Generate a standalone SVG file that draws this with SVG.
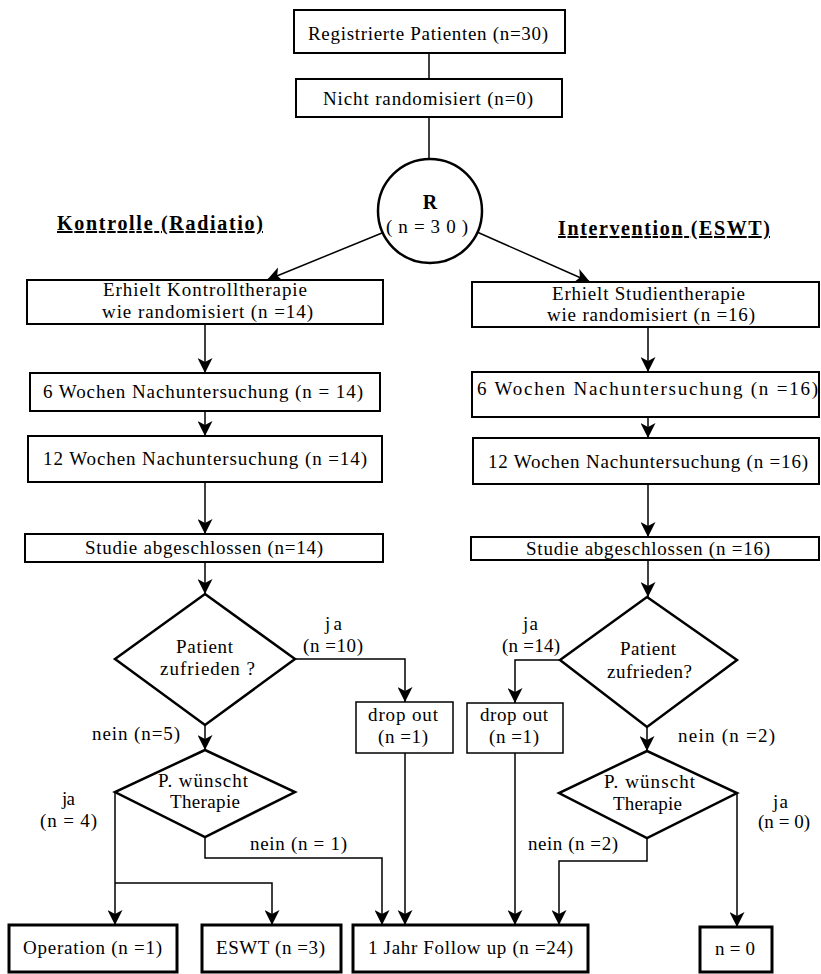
<svg xmlns="http://www.w3.org/2000/svg" width="821" height="974" viewBox="0 0 821 974">
<style>
.box{fill:#fff;stroke:#000;stroke-width:2}
.thin{fill:#fff;stroke:#000;stroke-width:1.5}
.thick{fill:#fff;stroke:#000;stroke-width:3}
.dia{fill:#fff;stroke:#000;stroke-width:2.5}
.conn{fill:none;stroke:#000;stroke-width:1.5}
.arr{marker-end:url(#ah)}
text{font-family:'Liberation Serif','DejaVu Serif','Times New Roman',serif;font-size:19px;fill:#000}
.title{font-weight:bold;font-size:20px;text-decoration:underline}
.mid{text-anchor:middle}
</style>
<defs>
<marker id="ah" markerUnits="userSpaceOnUse" markerWidth="15" markerHeight="15" viewBox="0 0 15 15" refX="15" refY="7.5" orient="auto">
<path d="M0,0 L15,7.5 L0,15 L4,7.5 z" fill="#000"/>
</marker>
</defs>
<rect width="821" height="974" fill="#fff"/>

<g id="connectors">
<path class="conn" d="M429,53 V79"/>
<path class="conn" d="M429,117 V159"/>
<path class="conn arr" d="M382,233 L267,280"/>
<path class="conn arr" d="M477,232 L590,282"/>
<path class="conn arr" d="M205,324 V373"/>
<path class="conn arr" d="M205,411 V436"/>
<path class="conn arr" d="M205,482 V534"/>
<path class="conn arr" d="M205,562 V594"/>
<path class="conn arr" d="M648,327 V372"/>
<path class="conn arr" d="M648,417 V438"/>
<path class="conn arr" d="M648,484 V537"/>
<path class="conn arr" d="M648,560 V597"/>
<path class="conn arr" d="M295,659 H405 V702"/>
<path class="conn arr" d="M405,753 V925"/>
<path class="conn arr" d="M205,725 V750"/>
<path class="conn arr" d="M115,792 V925"/>
<path class="conn arr" d="M115,883 H272 V925"/>
<path class="conn arr" d="M205,837 V858 H382 V925"/>
<path class="conn arr" d="M560,660 H515 V703"/>
<path class="conn arr" d="M515,753 V925"/>
<path class="conn arr" d="M647,727 V751"/>
<path class="conn arr" d="M737,793 V927"/>
<path class="conn arr" d="M647,838 V861 H559 V925"/>
</g>

<g id="registriert">
<rect class="box" x="294" y="10" width="271" height="43"/>
<text x="308" y="40" textLength="240" lengthAdjust="spacing">Registrierte Patienten (n=30)</text>
</g>
<g id="nicht-randomisiert">
<rect class="box" x="296" y="79" width="266" height="38"/>
<text x="323" y="105" textLength="210" lengthAdjust="spacing">Nicht randomisiert (n=0)</text>
</g>
<g id="randomisierung">
<circle class="dia" cx="430" cy="211" r="52"/>
<text class="mid" x="430" y="209" style="font-weight:bold;font-size:20px">R</text>
<text x="386" y="233" textLength="82" lengthAdjust="spacing">(n=30)</text>
</g>

<g id="titel-kontrolle">
<text class="title" x="57" y="230" textLength="206" lengthAdjust="spacing">Kontrolle (Radiatio)</text>
</g>
<g id="titel-intervention">
<text class="title" x="558" y="235" textLength="212" lengthAdjust="spacing">Intervention (ESWT)</text>
</g>

<g id="k-erhielt">
<rect class="box" x="27" y="280" width="356" height="44"/>
<text x="103" y="296" textLength="204" lengthAdjust="spacing">Erhielt Kontrolltherapie</text>
<text x="102" y="318" textLength="211" lengthAdjust="spacing">wie randomisiert (n =14)</text>
</g>
<g id="k-6wochen">
<rect class="box" x="30" y="373" width="350" height="38"/>
<text x="43" y="398" textLength="320" lengthAdjust="spacing">6 Wochen Nachuntersuchung (n = 14)</text>
</g>
<g id="k-12wochen">
<rect class="box" x="28" y="436" width="354" height="46"/>
<text x="43" y="465" textLength="324" lengthAdjust="spacing">12 Wochen Nachuntersuchung (n =14)</text>
</g>
<g id="k-studie">
<rect class="box" x="25" y="534" width="358" height="28"/>
<text x="85" y="554" textLength="238" lengthAdjust="spacing">Studie abgeschlossen (n=14)</text>
</g>

<g id="i-erhielt">
<rect class="box" x="472" y="282" width="347" height="45"/>
<text x="552" y="300" textLength="193" lengthAdjust="spacing">Erhielt Studientherapie</text>
<text x="547" y="321" textLength="208" lengthAdjust="spacing">wie randomisiert (n =16)</text>
</g>
<g id="i-6wochen">
<rect class="box" x="472" y="372" width="347" height="45"/>
<text x="477" y="395" textLength="341" lengthAdjust="spacing">6 Wochen Nachuntersuchung (n =16)</text>
</g>
<g id="i-12wochen">
<rect class="box" x="473" y="438" width="346" height="46"/>
<text x="488" y="468" textLength="320" lengthAdjust="spacing">12 Wochen Nachuntersuchung (n =16)</text>
</g>
<g id="i-studie">
<rect class="box" x="471" y="537" width="348" height="23"/>
<text x="526" y="555" textLength="244" lengthAdjust="spacing">Studie abgeschlossen (n =16)</text>
</g>

<g id="k-zufrieden">
<polygon class="dia" points="205,594 295,659 205,725 115,659"/>
<text x="176" y="653" textLength="57" lengthAdjust="spacing">Patient</text>
<text x="160" y="675" textLength="95" lengthAdjust="spacing">zufrieden ?</text>
</g>
<g id="k-wunsch">
<polygon class="dia" points="205,750 295,792 205,837 115,792"/>
<text x="158" y="787" textLength="90" lengthAdjust="spacing">P. wünscht</text>
<text x="170" y="808" textLength="70" lengthAdjust="spacing">Therapie</text>
</g>
<g id="k-dropout">
<rect class="thin" x="356" y="702" width="97" height="51"/>
<text x="368" y="721" textLength="70" lengthAdjust="spacing">drop out</text>
<text x="378" y="743" textLength="50" lengthAdjust="spacing">(n =1)</text>
</g>

<g id="i-zufrieden">
<polygon class="dia" points="647,597 737,660 647,727 560,660"/>
<text x="620" y="655" textLength="56" lengthAdjust="spacing">Patient</text>
<text x="607" y="678" textLength="85" lengthAdjust="spacing">zufrieden?</text>
</g>
<g id="i-wunsch">
<polygon class="dia" points="647,751 737,793 647,838 559,793"/>
<text x="604" y="788" textLength="91" lengthAdjust="spacing">P. wünscht</text>
<text x="613" y="810" textLength="69" lengthAdjust="spacing">Therapie</text>
</g>
<g id="i-dropout">
<rect class="thin" x="467" y="703" width="96" height="50"/>
<text x="480" y="721" textLength="68" lengthAdjust="spacing">drop out</text>
<text x="489" y="743" textLength="50" lengthAdjust="spacing">(n =1)</text>
</g>

<g id="labels">
<text x="325" y="630" textLength="17" lengthAdjust="spacing">ja</text>
<text x="303" y="652" textLength="60" lengthAdjust="spacing">(n =10)</text>
<text x="92" y="740" textLength="88" lengthAdjust="spacing">nein (n=5)</text>
<text x="62" y="805" textLength="13" lengthAdjust="spacing">ja</text>
<text x="40" y="827" textLength="57" lengthAdjust="spacing">(n = 4)</text>
<text x="250" y="850" textLength="97" lengthAdjust="spacing">nein (n = 1)</text>
<text x="523" y="630" textLength="15" lengthAdjust="spacing">ja</text>
<text x="502" y="652" textLength="58" lengthAdjust="spacing">(n =14)</text>
<text x="678" y="742" textLength="97" lengthAdjust="spacing">nein (n =2)</text>
<text x="773" y="808" textLength="15" lengthAdjust="spacing">ja</text>
<text x="758" y="828" textLength="52" lengthAdjust="spacing">(n = 0)</text>
<text x="528" y="850" textLength="90" lengthAdjust="spacing">nein (n =2)</text>
</g>

<g id="operation">
<rect class="thick" x="9" y="925" width="168" height="47"/>
<text x="23" y="954" textLength="139" lengthAdjust="spacing">Operation (n =1)</text>
</g>
<g id="eswt">
<rect class="thick" x="202" y="925" width="139" height="47"/>
<text x="216" y="954" textLength="109" lengthAdjust="spacing">ESWT (n =3)</text>
</g>
<g id="followup">
<rect class="thick" x="353" y="925" width="235" height="47"/>
<text x="368" y="954" textLength="205" lengthAdjust="spacing">1 Jahr Follow up (n =24)</text>
</g>
<g id="n0">
<rect class="thick" x="700" y="927" width="72" height="45"/>
<text x="715" y="955" textLength="40" lengthAdjust="spacing">n = 0</text>
</g>
</svg>
